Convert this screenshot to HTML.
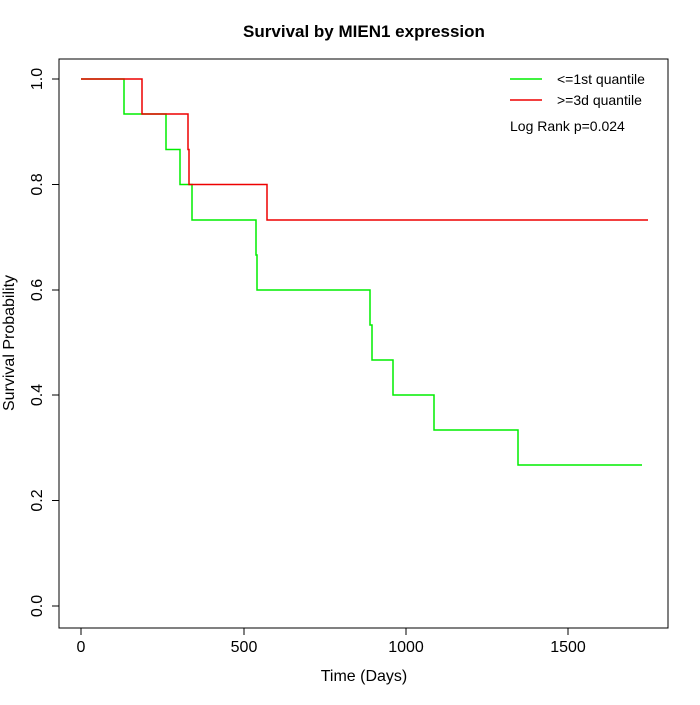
<!DOCTYPE html>
<html><head><style>body{margin:0;background:#fff}</style></head><body>
<svg width="700" height="700" xmlns="http://www.w3.org/2000/svg" font-family="Liberation Sans, sans-serif">
<rect x="59" y="59" width="609" height="569" fill="none" stroke="#000" stroke-width="1"/>
<text x="364" y="37" text-anchor="middle" font-size="17" font-weight="bold">Survival by MIEN1 expression</text>
<g stroke="#000" fill="none">
<line x1="81" y1="628" x2="568" y2="628"/>
<line x1="81" y1="628" x2="81" y2="635"/><line x1="244" y1="628" x2="244" y2="635"/><line x1="406" y1="628" x2="406" y2="635"/><line x1="568" y1="628" x2="568" y2="635"/>
<line x1="59" y1="79" x2="59" y2="606"/>
<line x1="52" y1="79" x2="59" y2="79"/><line x1="52" y1="184.5" x2="59" y2="184.5"/><line x1="52" y1="290" x2="59" y2="290"/><line x1="52" y1="395" x2="59" y2="395"/><line x1="52" y1="500.5" x2="59" y2="500.5"/><line x1="52" y1="606" x2="59" y2="606"/>
</g>
<g font-size="16" text-anchor="middle">
<text x="81" y="652">0</text><text x="244" y="652">500</text><text x="406" y="652">1000</text><text x="568" y="652">1500</text>
<text x="364" y="681">Time (Days)</text>
</g>
<g font-size="16" text-anchor="middle">
<text transform="translate(42,79) rotate(-90)">1.0</text>
<text transform="translate(42,184.5) rotate(-90)">0.8</text>
<text transform="translate(42,290) rotate(-90)">0.6</text>
<text transform="translate(42,395) rotate(-90)">0.4</text>
<text transform="translate(42,500.5) rotate(-90)">0.2</text>
<text transform="translate(42,606) rotate(-90)">0.0</text>
<text transform="translate(14,343) rotate(-90)">Survival Probability</text>
</g>
<polyline fill="none" stroke="#00ee00" stroke-width="1.5" points="81,79 124,79 124,114 166,114 166,149.5 180,149.5 180,184.5 192,184.5 192,220 256,220 256,255 257,255 257,290 370,290 370,325 372,325 372,360 393,360 393,395 434,395 434,430 518,430 518,465 642,465"/>
<polyline fill="none" stroke="#ee0000" stroke-width="1.5" points="81,79 142,79 142,114 188,114 188,149.5 189,149.5 189,184.5 267,184.5 267,220 648,220"/>
<line x1="510" y1="79" x2="542" y2="79" stroke="#00ee00" stroke-width="1.5"/>
<line x1="510" y1="100" x2="542" y2="100" stroke="#ee0000" stroke-width="1.5"/>
<g font-size="14"><text x="557" y="84">&lt;=1st quantile</text><text x="557" y="105">&gt;=3d quantile</text><text x="510" y="131">Log Rank p=0.024</text></g>
</svg>
</body></html>
